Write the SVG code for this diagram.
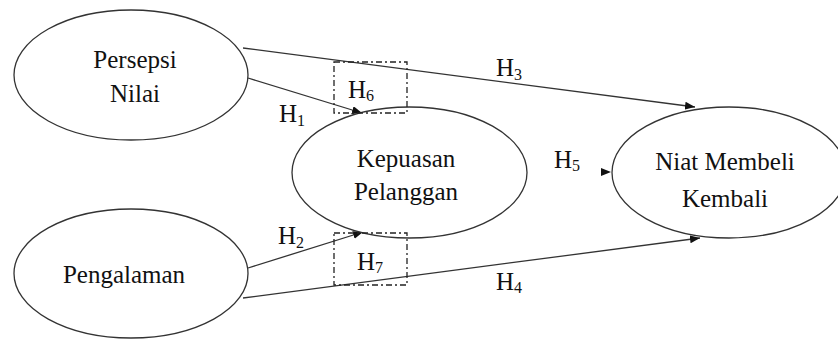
<svg xmlns="http://www.w3.org/2000/svg" width="838" height="340" viewBox="0 0 838 340">
<style>
.node ellipse{fill:#fff;stroke:#333;stroke-width:1.3}
.lbl{font-family:"Liberation Serif","Times New Roman",serif;font-size:25px;fill:#111;text-anchor:middle}
.h{font-family:"Liberation Serif","Times New Roman",serif;font-size:25px;fill:#111}
.sub{font-size:16px}
.conn{fill:none;stroke:#333;stroke-width:1.3}
.box{fill:none;stroke:#222;stroke-width:1.3;stroke-dasharray:6 3 2 3}
</style>
<defs>
<marker id="ah" viewBox="0 0 10 8" refX="10" refY="4" markerWidth="10" markerHeight="8" markerUnits="userSpaceOnUse" orient="auto">
<path d="M0,0 L10,4 L0,8 Z" fill="#111"/>
</marker>
</defs>
<rect width="838" height="340" fill="#fff"/>
<g id="connectors">
<path class="conn" d="M243,48 L695,107" marker-end="url(#ah)"/>
<path class="conn" d="M248,78 L362,113" marker-end="url(#ah)"/>
<path class="conn" d="M248,268 L363,232" marker-end="url(#ah)"/>
<path class="conn" d="M243,298 L700,238" marker-end="url(#ah)"/>
<path class="conn" d="M608,172 L611,172" stroke-opacity="0" marker-end="url(#ah)"/>
</g>
<g id="persepsi" class="node">
<ellipse cx="131" cy="75" rx="117" ry="65"/>
<text class="lbl" x="135" y="68">Persepsi</text>
<text class="lbl" x="135" y="102">Nilai</text>
</g>
<g id="pengalaman" class="node">
<ellipse cx="131" cy="273.5" rx="117" ry="64.5"/>
<text class="lbl" x="124" y="283">Pengalaman</text>
</g>
<g id="kepuasan" class="node">
<ellipse cx="409.5" cy="172.5" rx="117.5" ry="65.5"/>
<text class="lbl" x="406" y="167">Kepuasan</text>
<text class="lbl" x="406" y="200">Pelanggan</text>
</g>
<g id="niat" class="node">
<ellipse cx="729" cy="172.5" rx="117" ry="65.5"/>
<text class="lbl" x="725" y="170">Niat Membeli</text>
<text class="lbl" x="725" y="207">Kembali</text>
</g>
<g id="h6box">
<rect class="box" x="334" y="62" width="73" height="51"/>
</g>
<g id="h7box">
<rect class="box" x="334" y="233" width="73" height="52"/>
</g>
<g id="labels">
<text class="h" x="279" y="122">H<tspan class="sub" dy="4">1</tspan></text>
<text class="h" x="348" y="98">H<tspan class="sub" dy="3">6</tspan></text>
<text class="h" x="496" y="76">H<tspan class="sub" dy="4">3</tspan></text>
<text class="h" x="554" y="168">H<tspan class="sub" dy="3">5</tspan></text>
<text class="h" x="278" y="244">H<tspan class="sub" dy="4">2</tspan></text>
<text class="h" x="357" y="270">H<tspan class="sub" dy="3">7</tspan></text>
<text class="h" x="496" y="290">H<tspan class="sub" dy="3">4</tspan></text>
</g>
</svg>
